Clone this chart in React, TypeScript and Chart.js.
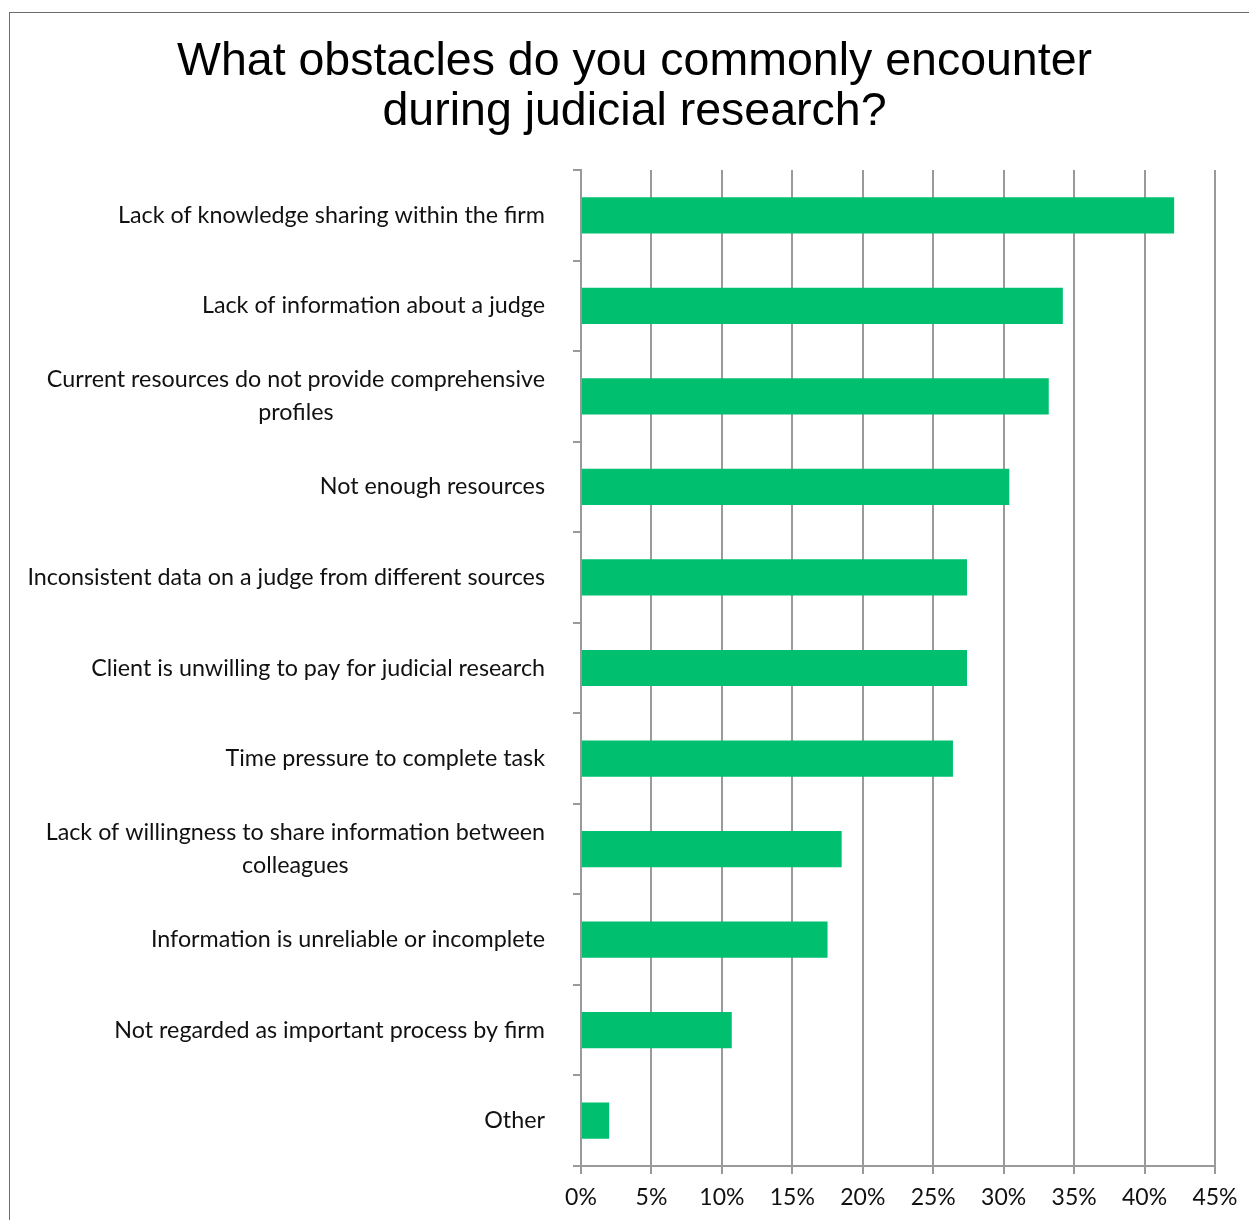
import React, { useEffect, useRef } from "react";
import { Chart, registerables } from "chart.js";

Chart.register(...registerables);

const titleLines = ["What obstacles do you commonly encounter", "during judicial research?"];

const categories: string[][] = [
  ["Lack of knowledge sharing within the firm"],
  ["Lack of information about a judge"],
  ["Current resources do not provide comprehensive", "profiles"],
  ["Not enough resources"],
  ["Inconsistent data on a judge from different sources"],
  ["Client is unwilling to pay for judicial research"],
  ["Time pressure to complete task"],
  ["Lack of willingness to share information between", "colleagues"],
  ["Information is unreliable or incomplete"],
  ["Not regarded as important process by firm"],
  ["Other"],
];

const values = [42.1, 34.2, 33.2, 30.4, 27.4, 27.4, 26.4, 18.5, 17.5, 10.7, 2.0];

const xTickValues = [0, 5, 10, 15, 20, 25, 30, 35, 40, 45];

const LABEL_FONT = "Lato, 'Open Sans', sans-serif";

const categoryLabelsPlugin = {
  id: "categoryLabels",
  afterDraw(chart: any) {
    const ctx = chart.ctx as CanvasRenderingContext2D;
    const yScale = chart.scales.y;
    ctx.save();
    ctx.font = `23.3px ${LABEL_FONT}`;
    ctx.fillStyle = "#111";
    ctx.textBaseline = "middle";
    ctx.textAlign = "center";
    const right = 545;
    const lh = 33;
    categories.forEach((lines, i) => {
      const cy = yScale.getPixelForValue(i);
      const w = Math.max(...lines.map((l) => ctx.measureText(l).width));
      const cx = right - w / 2;
      lines.forEach((line, j) => {
        ctx.fillText(line, cx, cy + (j - (lines.length - 1) / 2) * lh);
      });
    });
    ctx.restore();
  },
};

export default function App() {
  const canvasRef = useRef<HTMLCanvasElement | null>(null);

  useEffect(() => {
    document.body.style.margin = "0";
    const canvas = canvasRef.current;
    if (!canvas) return;
    const chart = new Chart(canvas, {
      type: "bar",
      data: {
        labels: categories.map((c) => c.join(" ")),
        datasets: [
          {
            data: values,
            backgroundColor: "#00BF6F",
            borderWidth: 0,
            barPercentage: 0.4,
            categoryPercentage: 1,
          },
        ],
      },
      plugins: [categoryLabelsPlugin],
      options: {
        indexAxis: "y",
        animation: false,
        responsive: false,
        maintainAspectRatio: false,
        layout: { padding: { left: 54, right: 34, top: 0, bottom: 0 } },
        plugins: {
          legend: { display: false },
          tooltip: { enabled: false },
          title: {
            display: true,
            text: titleLines,
            color: "#000",
            font: { family: "'Liberation Sans', Arial, sans-serif", size: 46.5, weight: "normal", lineHeight: 50 / 46.5 },
            padding: { top: 37, bottom: 33 },
          },
        },
        scales: {
          x: {
            min: 0,
            max: 45,
            afterBuildTicks: (scale: any) => {
              scale.ticks = xTickValues.map((v) => ({ value: v }));
            },
            afterFit: (scale: any) => {
              scale.height = 54;
            },
            ticks: {
              stepSize: 5,
              callback: (v: any) => `${v}%`,
              color: "#111",
              font: { family: LABEL_FONT, size: 23 },
              padding: 10,
            },
            grid: {
              color: "#9a9a9a",
              lineWidth: 2,
              tickLength: 8,
              drawTicks: true,
            },
            border: { display: true, color: "#9a9a9a", width: 2 },
          },
          y: {
            afterFit: (scale: any) => {
              scale.width = 581 - 54;
            },
            ticks: { display: false },
            grid: {
              offset: true,
              drawOnChartArea: false,
              drawTicks: true,
              tickLength: 8,
              color: "#9a9a9a",
              lineWidth: 2,
            },
            border: { display: true, color: "#9a9a9a", width: 2 },
          },
        },
      },
    });
    return () => chart.destroy();
  }, []);

  return (
    <div style={{ position: "relative", width: 1249, height: 1220, overflow: "hidden", background: "#fff" }}>
      <div
        style={{
          position: "absolute",
          left: 9,
          top: 12,
          width: 1400,
          height: 1400,
          borderLeft: "1.5px solid #6b6b6b",
          borderTop: "1.5px solid #6b6b6b",
        }}
      />
      <canvas ref={canvasRef} width={1249} height={1220} style={{ position: "absolute", left: 0, top: 0, width: 1249, height: 1220 }} />
    </div>
  );
}
